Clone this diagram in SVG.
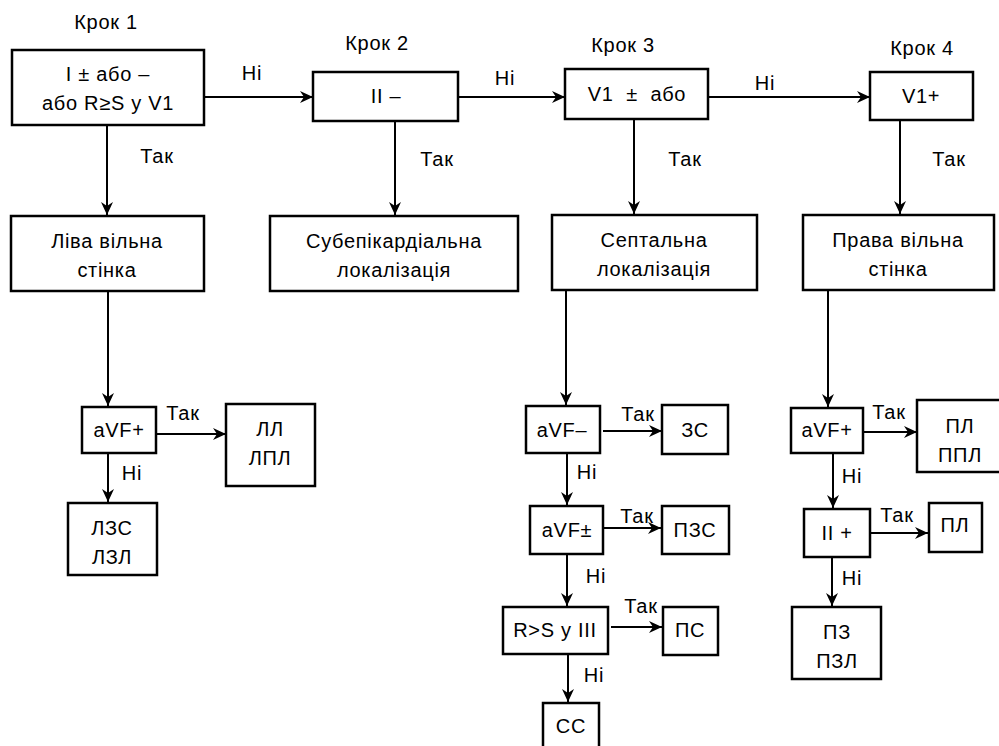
<svg xmlns="http://www.w3.org/2000/svg" width="999" height="746" viewBox="0 0 999 746">
<style>
text{font-family:"Liberation Sans",Arial,Helvetica,sans-serif;font-size:20px;letter-spacing:0.7px;fill:#000;text-anchor:middle}
.box{fill:#fff;stroke:#000;stroke-width:2.5}
.ln{stroke:#000;stroke-width:2;fill:none;marker-end:url(#ah)}
.pre{white-space:pre}
</style>
<defs>
<marker id="ah" markerUnits="userSpaceOnUse" markerWidth="14" markerHeight="12" refX="13" refY="6" orient="auto">
<path d="M0,0 L13,6 L0,12 L4,6 z" fill="#000"/>
</marker>
</defs>
<g id="steps">
<text x="106" y="29">Крок 1</text>
<text x="377" y="50">Крок 2</text>
<text x="623" y="52">Крок 3</text>
<text x="922" y="55">Крок 4</text>
</g>
<g id="connectors">
<line class="ln" x1="204" y1="97" x2="313" y2="97"/>
<line class="ln" x1="458" y1="97" x2="565" y2="97"/>
<line class="ln" x1="708" y1="97" x2="870" y2="97"/>
<line class="ln" x1="107" y1="125" x2="107" y2="215"/>
<line class="ln" x1="395" y1="121" x2="395" y2="215"/>
<line class="ln" x1="634" y1="119" x2="634" y2="214"/>
<line class="ln" x1="900" y1="120" x2="900" y2="214"/>
<line class="ln" x1="108" y1="291" x2="108" y2="406"/>
<line class="ln" x1="156" y1="434" x2="226" y2="434"/>
<line class="ln" x1="108" y1="453" x2="108" y2="502"/>
<line class="ln" x1="566" y1="290" x2="566" y2="405"/>
<line class="ln" x1="603" y1="431" x2="662" y2="431"/>
<line class="ln" x1="567" y1="453" x2="567" y2="505"/>
<line class="ln" x1="598" y1="528" x2="661" y2="528"/>
<line class="ln" x1="567" y1="554" x2="567" y2="606"/>
<line class="ln" x1="611" y1="627" x2="662" y2="627"/>
<line class="ln" x1="568" y1="654" x2="568" y2="702"/>
<line class="ln" x1="828" y1="290" x2="828" y2="407"/>
<line class="ln" x1="861" y1="432" x2="917" y2="432"/>
<line class="ln" x1="833" y1="453" x2="833" y2="508"/>
<line class="ln" x1="870" y1="533" x2="928" y2="533"/>
<line class="ln" x1="832" y1="557" x2="832" y2="606"/>
<text x="252" y="80">Ні</text>
<text x="505" y="85">Ні</text>
<text x="765" y="90">Ні</text>
<text x="157" y="163">Так</text>
<text x="437" y="166">Так</text>
<text x="685" y="166">Так</text>
<text x="949" y="166">Так</text>
<text x="183" y="420">Так</text>
<text x="132" y="480">Ні</text>
<text x="638" y="421">Так</text>
<text x="587" y="479">Ні</text>
<text x="637" y="523">Так</text>
<text x="596" y="583">Ні</text>
<text x="641" y="613">Так</text>
<text x="594" y="682">Ні</text>
<text x="889" y="419">Так</text>
<text x="852" y="483">Ні</text>
<text x="897" y="522">Так</text>
<text x="852" y="585">Ні</text>
</g>
<g id="n1"><rect class="box" x="12" y="50" width="192" height="75"/><text x="108" y="81">I ± або –</text><text x="108" y="110">або R≥S у V1</text></g>
<g id="n2"><rect class="box" x="313" y="72" width="145" height="49"/><text x="386" y="103">II –</text></g>
<g id="n3"><rect class="box" x="565" y="69" width="143" height="50"/><text class="pre" x="637" y="101">V1  ±  або</text></g>
<g id="n4"><rect class="box" x="870" y="72" width="103" height="48"/><text x="921" y="103">V1+</text></g>
<g id="n5"><rect class="box" x="11" y="216" width="193" height="75"/><text x="107" y="248">Ліва вільна</text><text x="107" y="277">стінка</text></g>
<g id="n6"><rect class="box" x="270" y="216" width="248" height="75"/><text x="394" y="248">Субепікардіальна</text><text x="394" y="277">локалізація</text></g>
<g id="n7"><rect class="box" x="552" y="215" width="205" height="75"/><text x="654" y="247">Септальна</text><text x="654" y="276">локалізація</text></g>
<g id="n8"><rect class="box" x="803" y="215" width="191" height="75"/><text x="898" y="247">Права вільна</text><text x="898" y="276">стінка</text></g>
<g id="n9"><rect class="box" x="82" y="407" width="74" height="46"/><text x="119" y="437">aVF+</text></g>
<g id="n10"><rect class="box" x="226" y="404" width="89" height="82"/><text x="270" y="436">ЛЛ</text><text x="270" y="465">ЛПЛ</text></g>
<g id="n11"><rect class="box" x="68" y="503" width="89" height="72"/><text x="112" y="535">ЛЗС</text><text x="112" y="564">ЛЗЛ</text></g>
<g id="n12"><rect class="box" x="526" y="406" width="74" height="47"/><text x="562" y="437">aVF–</text></g>
<g id="n13"><rect class="box" x="662" y="405" width="66" height="49"/><text x="695" y="437">ЗС</text></g>
<g id="n14"><rect class="box" x="530" y="506" width="73" height="48"/><text x="567" y="537">aVF±</text></g>
<g id="n15"><rect class="box" x="662" y="506" width="67" height="48"/><text x="695" y="537">ПЗС</text></g>
<g id="n16"><rect class="box" x="503" y="607" width="105" height="47"/><text x="555" y="637">R&gt;S у III</text></g>
<g id="n17"><rect class="box" x="663" y="607" width="55" height="48"/><text x="690" y="637">ПС</text></g>
<g id="n18"><rect class="box" x="543" y="703" width="56" height="60"/><text x="571" y="733">СС</text></g>
<g id="n19"><rect class="box" x="791" y="408" width="72" height="45"/><text x="827" y="437">aVF+</text></g>
<g id="n20"><rect class="box" x="917" y="400" width="84" height="72"/><text x="960" y="433">ПЛ</text><text x="960" y="462">ППЛ</text></g>
<g id="n21"><rect class="box" x="804" y="509" width="66" height="48"/><text x="837" y="540">II +</text></g>
<g id="n22"><rect class="box" x="929" y="503" width="53" height="49"/><text x="955" y="532">ПЛ</text></g>
<g id="n23"><rect class="box" x="792" y="607" width="89" height="72"/><text x="837" y="639">ПЗ</text><text x="837" y="668">ПЗЛ</text></g>
</svg>
